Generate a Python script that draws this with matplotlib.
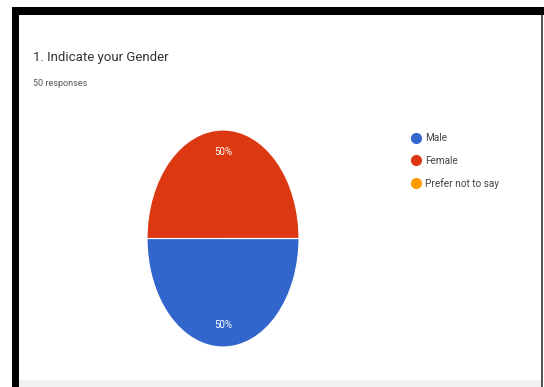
import matplotlib.pyplot as plt
from matplotlib.lines import Line2D
from matplotlib.patches import Rectangle

# Data
labels = ["Male", "Female", "Prefer not to say"]
counts = [25, 25, 0]
colors = ["#3366cc", "#dc3912", "#ff9900"]
title = "1. Indicate your Gender"
subtitle = "50 responses"

W, H = 544, 387
fig = plt.figure(figsize=(W / 100, H / 100), dpi=100)
fig.patch.set_facecolor("white")

# frame of the screenshot
fig.patches.append(Rectangle((19 / W, 0), 523 / W, 7 / H, transform=fig.transFigure,
                             facecolor="#f1f1f1", edgecolor="none"))
fig.patches.append(Rectangle((12 / W, 1 - 15 / H), 532 / W, 8 / H, transform=fig.transFigure,
                             facecolor="black", edgecolor="none"))
fig.patches.append(Rectangle((12 / W, 0), 7 / W, 1 - 7 / H, transform=fig.transFigure,
                             facecolor="black", edgecolor="none"))
fig.patches.append(Rectangle((541 / W, 0), 2 / W, 1 - 15 / H, transform=fig.transFigure,
                             facecolor="#555555", edgecolor="none"))

fig.text(33 / W, 1 - 58 / H, title, fontsize=9.5, family="Roboto", color="#333333", va="center")
fig.text(33 / W, 1 - 83 / H, subtitle, fontsize=6.5, family="Roboto", color="#555555", va="center")

# pie (stretched vertically like the reference)
ax = fig.add_axes([147 / W, 40 / H, 152 / W, 217 / H])
wedges, texts, autotexts = ax.pie(
    counts, colors=colors, startangle=0, counterclock=False,
    autopct=lambda p: f"{p:.0f}%" if p > 0 else "", pctdistance=0.8,
    wedgeprops=dict(edgecolor="white", linewidth=0.8),
    textprops=dict(color="white", fontsize=7, family="Roboto"))
ax.set_aspect("auto")
ax.set_xlim(-1, 1)
ax.set_ylim(-1, 1)
ax.axis("off")

handles = [Line2D([], [], marker="o", linestyle="none", markersize=7,
                  markerfacecolor=c, markeredgecolor=c) for c in colors]
fig.legend(handles, labels, loc="upper left", bbox_to_anchor=(405 / W, 1 - 128 / H),
           frameon=False, prop={"family": "Roboto", "size": 7.2},
           labelspacing=1.25, handletextpad=0.3, handlelength=1.2, borderpad=0,
           labelcolor="#444444")

fig.savefig("out.png", dpi=100)
